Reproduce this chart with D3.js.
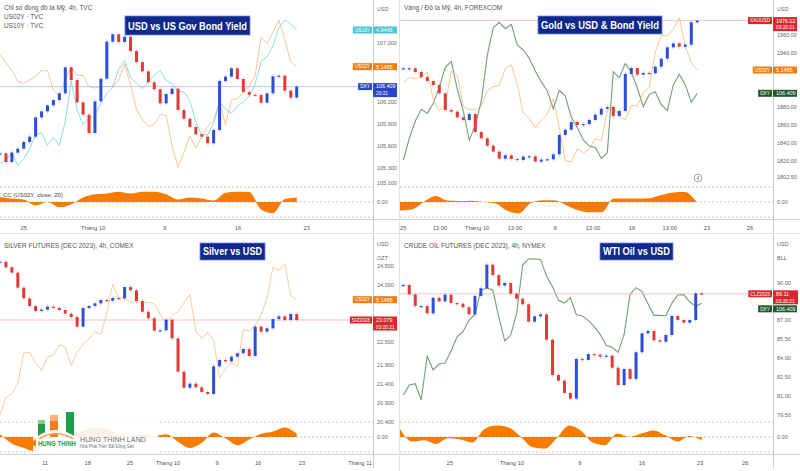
<!DOCTYPE html>
<html lang="vi">
<head>
<meta charset="UTF-8">
<title>USD, Vàng, Bạc, Dầu</title>
<script src="https://d3js.org/d3.v7.min.js"></script>
<style>
  body { margin: 0; background: #fff; }
  svg { display: block; font-family: "Liberation Sans", "DejaVu Sans", Arial, sans-serif; }
</style>
</head>
<body>
<div id="chart"></div>
<script>
// ---- dữ liệu ----
// Panel 1: DXY 4h + lợi suất
var dxyClose = [105.504, 105.386, 105.513, 105.567, 105.658, 105.730, 105.992, 106.073, 106.155, 106.227,
  106.318, 106.670, 106.498, 106.195, 106.028, 105.780, 106.209, 106.516, 107.018, 107.118,
  107.014, 107.086, 106.892, 106.742, 106.616, 106.467, 106.372, 106.182, 106.308, 106.381,
  106.092, 105.974, 105.861, 105.762, 105.730, 105.640, 105.820, 106.485, 106.544, 106.657,
  106.512, 106.336, 106.299, 106.295, 106.191, 106.318, 106.548, 106.557, 106.354, 106.259, 106.409];
var us02yP1 = [5.168, 5.156, 5.144, 5.128, 5.125, 5.130, 5.136, 5.144, 5.144, 5.115,
  5.105, 5.131, 5.149, 5.137, 5.137, 5.120, 5.118, 5.120, 5.120, 5.120,
  5.130, 5.154, 5.123, 5.086, 5.071, 5.060, 5.064, 5.078, 5.077, 5.031,
  4.999, 5.021, 5.046, 5.028, 5.044, 5.060, 5.069, 5.098, 5.063, 5.100,
  5.102, 5.111, 5.121, 5.137, 5.194, 5.185, 5.202, 5.220, 5.191, 5.157, 5.150];
var us10yP1 = [4.745, 4.750, 4.762, 4.742, 4.752, 4.767, 4.788, 4.791, 4.772, 4.784,
  4.772, 4.808, 4.868, 4.825, 4.803, 4.812, 4.817, 4.835, 4.850, 4.859,
  4.886, 4.899, 4.874, 4.865, 4.857, 4.868, 4.877, 4.884, 4.869, 4.865,
  4.853, 4.852, 4.839, 4.807, 4.787, 4.788, 4.805, 4.837, 4.826, 4.820,
  4.831, 4.837, 4.846, 4.864, 4.898, 4.905, 4.921, 4.949, 4.960, 4.954, 4.945];
var ccP1 = [0.34, 0.23, 0.16, -0.23, 0, -0.34, -0.16, 0.30, 0.51, 0.57, 0.69, 0.57, 0.69,
  0.69, 0.51, 0.16, 0.30, 0.23, 0.10, 0.62, 0.69, 0.67, -0.5, -0.75, 0.20, 0.30];
var dxyTicks = [107.0, 106.6, 106.2, 105.9, 105.6, 105.3, 105.1];
var p1DateLabels = ["25", "Tháng 10", "9", "16", "23"];
var p1DateIdx = [4.0, 15.7, 27.8, 40.1, 51.7];

// Panel 2: Vàng
var goldClose = [1923.0, 1923.0, 1918.9, 1913.3, 1908.9, 1904.4, 1895.2, 1876.7, 1874.8, 1868.5,
  1865.6, 1872.2, 1852.2, 1845.2, 1837.0, 1830.4, 1822.6, 1826.3, 1822.2, 1821.1,
  1824.8, 1825.2, 1819.3, 1821.5, 1821.9, 1827.4, 1848.9, 1854.8, 1863.3, 1860.0,
  1861.1, 1865.6, 1871.5, 1878.1, 1880.0, 1870.0, 1875.6, 1916.7, 1923.3, 1915.9,
  1917.8, 1917.4, 1924.8, 1933.7, 1946.3, 1950.7, 1947.0, 1949.3, 1974.1, 1976.0];
var dxyP2 = [105.414, 105.707, 105.942, 106.101, 106.046, 106.182, 106.399, 106.670, 106.751, 106.376,
  106.078, 105.685, 105.879, 106.214, 106.837, 107.208, 107.280, 107.194, 107.253, 106.973,
  106.905, 106.792, 106.620, 106.476, 106.349, 106.105, 106.358, 106.281, 105.992, 105.856,
  105.685, 105.603, 105.585, 105.436, 105.513, 106.611, 106.530, 106.720, 106.607, 106.390,
  106.137, 106.304, 106.340, 106.164, 106.082, 106.431, 106.575, 106.435, 106.195, 106.318];
var us02yP2 = [5.126, 5.134, 5.132, 5.134, 5.142, 5.101, 5.084, 5.092, 5.143, 5.137,
  5.090, 5.086, 5.085, 5.090, 5.114, 5.120, 5.122, 5.147, 5.153, 5.123,
  5.080, 5.073, 5.058, 5.070, 5.079, 5.102, 5.058, 5.009, 5.007, 5.027,
  5.020, 5.027, 5.042, 5.039, 5.084, 5.090, 5.076, 5.070, 5.092, 5.091,
  5.111, 5.119, 5.172, 5.197, 5.196, 5.206, 5.223, 5.181, 5.156, 5.145];
var ccP2 = [-0.57, -0.5, 0.0, 0.4, 0.1, 0.07, 0.09, 0, -0.09, -0.57, -0.76, -0.09, 0.11,
  0.11, -0.21, -0.55, -0.69, -0.69, 0.23, 0.23, 0.23, 0.25, 0.46, 0.64, 0.67, 0];
var goldTicks = [1960, 1940, 1920, 1900, 1880, 1860, 1840, 1820, 1802.5];
var p2DateLabels = ["25", "13:00", "Tháng 10", "13:00", "9", "13:00", "16", "13:00", "23", "26"];
var p2DateIdx = [0, 6.1, 12.3, 18.6, 25.3, 31.6, 38.1, 44.4, 50.6, 57.8];

// Panel 3: Bạc
var silverClose = [24.614, 24.465, 24.325, 23.930, 23.649, 23.447, 23.316, 23.351, 23.430, 23.395,
  23.342, 23.246, 23.158, 22.904, 23.395, 23.447, 23.518, 23.605, 23.588, 23.658,
  23.649, 23.947, 23.860, 23.579, 23.298, 23.123, 22.798, 22.807, 23.088, 22.596,
  21.719, 21.298, 21.404, 21.307, 21.184, 21.132, 21.860, 22.026, 21.991, 22.114,
  22.202, 22.316, 22.132, 22.904, 22.772, 22.860, 23.105, 23.175, 23.079, 23.237, 23.079];
var us02yP3 = [4.980, 5.006, 5.012, 5.027, 5.073, 5.074, 5.058, 5.047, 5.067, 5.069,
  5.085, 5.082, 5.054, 5.074, 5.086, 5.094, 5.105, 5.101, 5.133, 5.176,
  5.155, 5.155, 5.149, 5.150, 5.149, 5.149, 5.147, 5.131, 5.118, 5.130,
  5.135, 5.148, 5.161, 5.105, 5.095, 5.104, 5.092, 5.036, 5.049, 5.058,
  5.053, 5.108, 5.106, 5.114, 5.130, 5.155, 5.202, 5.197, 5.207, 5.159, 5.153];
var ccP3 = [0.18, -0.44, -0.74, -0.97, -0.28, 0.07, 0.18, 0.41, 0.64, 0.53, 0.18, 0.07, 0.18,
  0.07, 0.18, -0.32, -0.74, -0.39, 0.30, -0.09, -0.55, -0.16, 0.21, 0.37, 0.64, 0.23];
var silverTicks = [24.5, 24.0, 23.5, 23.0, 22.5, 21.9, 21.4, 20.9, 20.4];
var p3DateLabels = ["11", "18", "25", "Tháng 10", "9", "16", "23", "Tháng 11"];
var p3DateIdx = [7.6, 14.8, 21.9, 28.3, 36.6, 43.5, 50.9, 60.7];

// Panel 4: Dầu WTI
var oilClose = [89.81, 89.07, 88.14, 88.14, 87.56, 88.80, 88.51, 89.04, 88.38, 88.33,
  88.04, 87.48, 88.94, 89.55, 91.42, 90.60, 89.76, 89.97, 89.12, 88.72,
  88.28, 86.90, 87.32, 87.48, 85.47, 82.67, 82.22, 81.24, 80.79, 83.94,
  83.86, 84.33, 84.28, 84.12, 84.20, 83.25, 81.87, 83.14, 82.35, 84.47,
  85.97, 86.16, 85.42, 85.31, 85.84, 87.35, 87.03, 86.82, 87.03, 89.15, 89.11];
var dxyP4 = [105.414, 105.549, 105.567, 105.350, 105.938, 105.753, 105.834, 105.847, 106.010, 106.200,
  106.272, 106.426, 106.507, 106.833, 106.864, 106.837, 106.471, 106.146, 106.227, 106.525,
  107.176, 107.258, 107.262, 107.249, 107.027, 106.882, 106.697, 106.661, 106.733, 106.503,
  106.485, 106.426, 106.340, 106.232, 106.087, 106.060, 105.992, 106.236, 106.779, 106.869,
  106.815, 106.652, 106.494, 106.494, 106.489, 106.657, 106.769, 106.774, 106.675, 106.616, 106.657];
var ccP4 = [0.53, -0.30, -0.21, -0.46, -0.09, -0.16, -0.37, 0.53, 0.76, 0.64, 0.02, -0.69, -0.78,
  -0.07, 0.76, 0.41, -0.39, -0.55, 0.23, 0, 0.23, 0.44, 0.11, -0.30, 0.07, -0.23];
var oilTicks = [90, 88.5, 87, 85.5, 84, 82.5, 81, 79.5];
var p4DateLabels = ["25", "Tháng 10", "9", "16", "23", "26"];
var p4DateIdx = [7.8, 18.2, 29.6, 40.0, 49.7, 57.3];

// ---- vẽ ----
var W = 800, H = 471;
var PANE_H = 185, AXIS_X = 373;
var upColor = "#2c4fd8", downColor = "#e23b36";
var orange = "#f5a04e", teal = "#6fd3da", green = "#5b8b63";

var svg = d3.select("#chart").append("svg").attr("width", W).attr("height", H);
svg.append("rect").attr("width", W).attr("height", H).attr("fill", "#fff");

function drawPanel(p) {
  var g = svg.append("g").attr("transform", "translate(" + p.ox + "," + p.oy + ")");
  var x = d3.scaleLinear().domain([0, p.closes.length - 1]).range(p.candleRange);
  var y = d3.scaleLinear().domain(p.priceDomain).range([0, PANE_H]);
  var xc = d3.scaleLinear().domain([0, p.cc.length - 1]).range(p.ccRange);
  var yc = d3.scaleLinear().domain([1, -1]).range([187, 217]);

  // khung trục
  g.append("line").attr("x1", AXIS_X + 0.5).attr("x2", AXIS_X + 0.5).attr("y1", 0).attr("y2", 233)
    .attr("stroke", "#cfcfcf");
  g.append("line").attr("x1", 0).attr("x2", 400).attr("y1", 219.5).attr("y2", 219.5)
    .attr("stroke", "#cfcfcf");
  [1, 0, -1].forEach(function (v) {
    g.append("line").attr("x1", 0).attr("x2", AXIS_X).attr("y1", yc(v)).attr("y2", yc(v))
      .attr("stroke", "#b8b8b8").attr("stroke-width", 0.8).attr("stroke-dasharray", "2,2");
  });

  // đường so sánh
  p.overlays.forEach(function (o) {
    o.scale = d3.scaleLinear().domain(o.domain).range([0, PANE_H]);
    g.append("path").datum(o.values)
      .attr("d", d3.line().x(function (d, i) { return x(i); }).y(function (d) { return o.scale(d); }))
      .attr("fill", "none").attr("stroke", o.color).attr("stroke-width", o.width || 1)
      .attr("stroke-opacity", o.opacity || 1);
  });

  // đường giá hiện tại
  var last = p.closes[p.closes.length - 1];
  g.append("line").attr("x1", 0).attr("x2", AXIS_X).attr("y1", y(last)).attr("y2", y(last))
    .attr("stroke", p.priceLineColor).attr("stroke-width", 0.8);

  // nến
  var candles = p.closes.map(function (c, i) {
    return { i: i, o: i === 0 ? c : p.closes[i - 1], c: c };
  });
  var cg = g.append("g");
  cg.selectAll("line.wick").data(candles).enter().append("line")
    .attr("x1", function (d) { return x(d.i); }).attr("x2", function (d) { return x(d.i); })
    .attr("y1", function (d) { return y(Math.max(d.o, d.c)) - 2; })
    .attr("y2", function (d) { return y(Math.min(d.o, d.c)) + 2; })
    .attr("stroke", function (d) { return d.c >= d.o ? upColor : downColor; })
    .attr("stroke-opacity", 0.35).attr("stroke-width", 0.8);
  cg.selectAll("rect").data(candles).enter().append("rect")
    .attr("x", function (d) { return x(d.i) - 1.5; })
    .attr("width", 3)
    .attr("y", function (d) { return y(Math.max(d.o, d.c)); })
    .attr("height", function (d) { return Math.max(1.2, Math.abs(y(d.o) - y(d.c))); })
    .attr("fill", function (d) { return d.c >= d.o ? upColor : downColor; });

  // chỉ báo tương quan
  g.append("path").datum(p.cc)
    .attr("d", d3.area().x(function (d, i) { return xc(i); }).y0(yc(0)).y1(function (d) { return yc(d); })
      .curve(d3.curveMonotoneX))
    .attr("fill", "#f57c00");

  // nhãn giá bên phải
  var boxes = p.boxes.map(function (b) {
    var vy = b.src === "main" ? y(last) : p.overlays[b.src].scale(p.overlays[b.src].values[p.overlays[b.src].values.length - 1]);
    var h = b.lines.length > 1 ? 14 : 7;
    return { b: b, top: vy - 3.5, h: h };
  }).sort(function (a, b) { return a.top - b.top; });
  for (var k = 1; k < boxes.length; k++) {
    boxes[k].top = Math.max(boxes[k].top, boxes[k - 1].top + boxes[k - 1].h + 1);
  }

  // vạch giá
  var fmt = d3.format(p.tickFormat);
  p.priceTicks.forEach(function (t) {
    var ty = y(t);
    var hidden = boxes.some(function (bx) { return Math.abs(bx.top + 3.5 - ty) < 10; });
    if (hidden) return;
    g.append("text").attr("x", 377).attr("y", ty + 2).attr("font-size", 5.5).attr("fill", "#666").text(fmt(t));
  });
  p.units.forEach(function (u, i) {
    g.append("text").attr("x", 377).attr("y", 11 + i * 14).attr("font-size", 5.5).attr("fill", "#666").text(u);
  });
  g.append("text").attr("x", 377).attr("y", yc(0) + 2).attr("font-size", 5.5).attr("fill", "#666").text("0.00");

  boxes.forEach(function (bx) {
    var b = bx.b;
    var bg = g.append("g");
    var tr = bg.append("rect").attr("y", bx.top).attr("height", 7).attr("fill", b.color);
    var tt = bg.append("text").attr("y", bx.top + 5.2).attr("font-size", 4.8).attr("fill", "#fff").text(b.tag);
    var tw = tt.node().getComputedTextLength() + 4;
    tr.attr("x", AXIS_X - 1 - tw).attr("width", tw);
    tt.attr("x", AXIS_X - 1 - tw + 2);
    bg.append("rect").attr("x", AXIS_X).attr("y", bx.top).attr("width", b.valueW || 24).attr("height", bx.h)
      .attr("fill", b.color);
    b.lines.forEach(function (s, i) {
      bg.append("text").attr("x", AXIS_X + 3).attr("y", bx.top + 5.4 + i * 6.8)
        .attr("font-size", i === 0 ? 5.4 : 4.8).attr("fill", "#fff").text(s);
    });
  });

  // nhãn ngày
  p.dateLabels.forEach(function (lab, i) {
    g.append("text").attr("x", x(p.dateIdx[i])).attr("y", 230).attr("text-anchor", "middle")
      .attr("font-size", 5.8).attr("fill", "#555").text(lab);
  });

  // tiêu đề
  p.header.forEach(function (s, i) {
    g.append("text").attr("x", 4).attr("y", p.headerY + i * 9).attr("font-size", 6.5).attr("fill", "#555").text(s);
  });
  var tb = p.titleBox;
  g.append("rect").attr("x", tb[0]).attr("y", tb[1]).attr("width", tb[2]).attr("height", tb[3])
    .attr("fill", "#10288a").attr("stroke", "#6f88e0").attr("stroke-width", 0.8);
  g.append("text").attr("x", tb[0] + 3).attr("y", tb[1] + tb[3] - 5).attr("font-size", 11.5)
    .attr("font-weight", "bold").attr("fill", "#fff")
    .attr("textLength", tb[2] - 6).attr("lengthAdjust", "spacingAndGlyphs").text(p.title);

  return g;
}

var g1 = drawPanel({
  ox: 0, oy: 0, closes: dxyClose, priceDomain: [107.583, 105.075], candleRange: [0, 296.7],
  overlays: [
    { values: us02yP1, domain: [5.25, 4.9725], color: orange, opacity: 0.6 },
    { values: us10yP1, domain: [4.99, 4.7125], color: teal, opacity: 0.8 }
  ],
  cc: ccP1, ccRange: [0, 296.7], priceTicks: dxyTicks, tickFormat: ".3f", units: ["USD"],
  priceLineColor: "#a9bbec", dateLabels: p1DateLabels, dateIdx: p1DateIdx,
  boxes: [
    { src: 1, tag: "US10Y", lines: ["4.9445"], color: "#4cc6d6" },
    { src: 0, tag: "US02Y", lines: ["5.1485"], color: "#f47d12" },
    { src: "main", tag: "DXY", lines: ["106.409", "20:21"], color: "#2a46cf" }
  ],
  header: ["Chỉ số đồng đô la Mỹ, 4h, TVC", "US02Y · TVC", "US10Y · TVC"], headerY: 10,
  title: "USD vs US Gov Bond Yield", titleBox: [125, 16, 125, 19]
});
g1.append("text").attr("x", 3).attr("y", 197).attr("font-size", 6).attr("fill", "#444").text("CC (US02Y, close, 20)");

var g2 = drawPanel({
  ox: 400, oy: 0, closes: goldClose, priceDomain: [1998.9, 1793.3], candleRange: [3.3, 297.3],
  overlays: [
    { values: dxyP2, domain: [107.583, 105.075], color: green, opacity: 0.85, width: 1.1 },
    { values: us02yP2, domain: [5.25, 4.9725], color: orange, opacity: 0.6 }
  ],
  cc: ccP2, ccRange: [0, 296.7], priceTicks: goldTicks, tickFormat: ".2f", units: ["USD"],
  priceLineColor: "#f4b9b6", dateLabels: p2DateLabels, dateIdx: p2DateIdx,
  boxes: [
    { src: "main", tag: "XAUUSD", lines: ["1976.02", "03:20:21"], color: "#d9282d" },
    { src: 1, tag: "US02Y", lines: ["5.1485"], color: "#f47d12" },
    { src: 0, tag: "DXY", lines: ["106.409"], color: "#1d5a2b" }
  ],
  header: ["Vàng / Đô la Mỹ, 4h, FOREXCOM"], headerY: 10,
  title: "Gold vs USD & Bond Yield", titleBox: [138, 16, 124, 18]
});
g2.append("circle").attr("cx", 298).attr("cy", 178).attr("r", 3.8).attr("fill", "#fff")
  .attr("stroke", "#777").attr("stroke-width", 0.7);
g2.append("text").attr("x", 298).attr("y", 180).attr("text-anchor", "middle").attr("font-size", 5)
  .attr("fill", "#777").text("4");

var g3 = drawPanel({
  ox: 0, oy: 235, closes: silverClose, priceDomain: [25.316, 20.447], candleRange: [0, 296.7],
  overlays: [
    { values: us02yP3, domain: [5.25, 4.9725], color: orange, opacity: 0.55 }
  ],
  cc: ccP3, ccRange: [0, 296.7], priceTicks: silverTicks, tickFormat: ".3f", units: ["USD", "OZT"],
  priceLineColor: "#f4b9b6", dateLabels: p3DateLabels, dateIdx: p3DateIdx,
  boxes: [
    { src: 0, tag: "US02Y", lines: ["5.1485"], color: "#f47d12" },
    { src: "main", tag: "SIZ2023", lines: ["23.079", "03:20:21"], color: "#d9282d" }
  ],
  header: ["SILVER FUTURES (DEC 2023), 4h, COMEX"], headerY: 13,
  title: "Silver vs USD", titleBox: [200, 8, 65, 17]
});

var g4 = drawPanel({
  ox: 400, oy: 235, closes: oilClose, priceDomain: [93.778, 79.095], candleRange: [3.3, 301.7],
  overlays: [
    { values: dxyP4, domain: [107.583, 105.075], color: green, opacity: 0.85, width: 1.1 }
  ],
  cc: ccP4, ccRange: [0, 301.7], priceTicks: oilTicks, tickFormat: ".2f", units: ["USD", "BLL"],
  priceLineColor: "#f4b9b6", dateLabels: p4DateLabels, dateIdx: p4DateIdx,
  boxes: [
    { src: "main", tag: "CLZ2023", lines: ["89.11", "03:20:21"], color: "#d9282d", valueW: 25 },
    { src: 0, tag: "DXY", lines: ["106.409"], color: "#1d5a2b" }
  ],
  header: ["CRUDE OIL FUTURES (DEC 2023), 4h, NYMEX"], headerY: 13,
  title: "WTI Oil vs USD", titleBox: [200, 8, 73, 17]
});

// đường phân cách các ô
svg.append("line").attr("x1", 399.5).attr("x2", 399.5).attr("y1", 0).attr("y2", H).attr("stroke", "#e2e2e2");
svg.append("line").attr("x1", 0).attr("x2", W).attr("y1", 233.5).attr("y2", 233.5).attr("stroke", "#e2e2e2");

// logo Hưng Thịnh Land
var logo = svg.append("g");
logo.append("rect").attr("x", 33).attr("y", 408).attr("width", 125).attr("height", 46)
  .attr("fill", "#fff").attr("fill-opacity", 0.9);
logo.append("rect").attr("x", 38).attr("y", 420).attr("width", 7).attr("height", 17).attr("fill", "#1f9d49");
logo.append("rect").attr("x", 38).attr("y", 420).attr("width", 7).attr("height", 4).attr("fill", "#86cf86");
logo.append("rect").attr("x", 50).attr("y", 415).attr("width", 8).attr("height", 22).attr("fill", "#f47d20");
logo.append("rect").attr("x", 50).attr("y", 415).attr("width", 8).attr("height", 6).attr("fill", "#fbb27a");
logo.append("rect").attr("x", 66).attr("y", 412).attr("width", 8).attr("height", 25).attr("fill", "#1f9d49");
logo.append("path").attr("d", "M36,439 Q56,424 76,439").attr("fill", "none").attr("stroke", "#fff").attr("stroke-width", 3);
logo.append("path").attr("d", "M36,441 Q56,426 76,441").attr("fill", "none").attr("stroke", "#f6a25a").attr("stroke-width", 1.6);
logo.append("rect").attr("x", 36).attr("y", 439).attr("width", 42).attr("height", 9).attr("fill", "#fff");
logo.append("path").attr("d", "M30,443 L36,439 L36,447 Z").attr("fill", "#f47d20");
logo.append("text").attr("x", 38).attr("y", 446).attr("font-size", 7).attr("font-weight", "bold")
  .attr("fill", "#1f9d49").attr("textLength", 38).attr("lengthAdjust", "spacingAndGlyphs").text("HUNG THINH");
logo.append("text").attr("x", 80).attr("y", 442).attr("font-size", 7).attr("fill", "#6b6b6b")
  .attr("textLength", 66).attr("lengthAdjust", "spacingAndGlyphs").text("HUNG THINH LAND");
logo.append("text").attr("x", 80).attr("y", 448).attr("font-size", 4.6).attr("fill", "#777")
  .attr("textLength", 54).attr("lengthAdjust", "spacingAndGlyphs").text("Nhà Phát Triển Bất Động Sản");
</script>
</body>
</html>
